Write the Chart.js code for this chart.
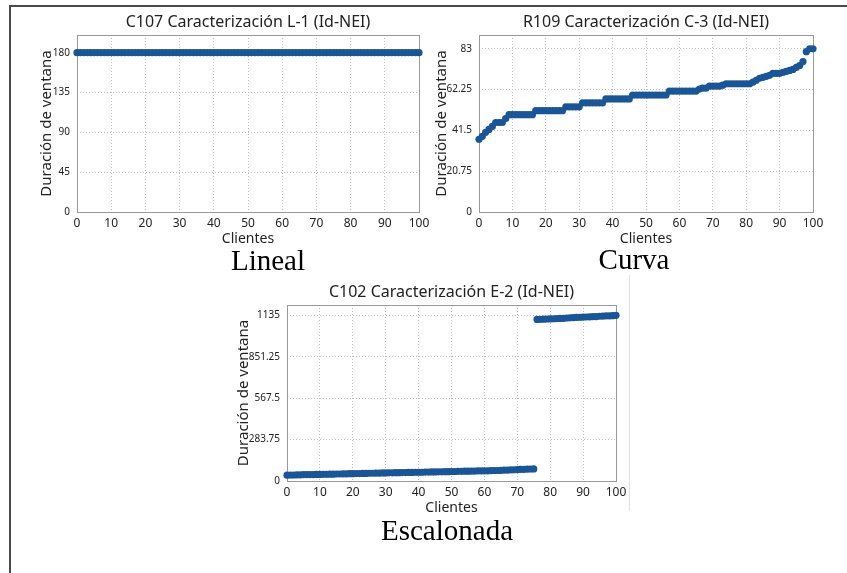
<!DOCTYPE html>
<html>
<head>
<meta charset="utf-8">
<script src="https://cdn.jsdelivr.net/npm/chart.js@4.4.1/dist/chart.umd.min.js"></script>
<style>
  body { margin: 0; background: #fff; width: 847px; height: 573px; position: relative; overflow: hidden; }
  canvas { position: absolute; }
  .frame { position: absolute; left: 9px; top: 5px; width: 900px; height: 600px; border-top: 2px solid #4a4a4a; border-left: 2px solid #4a4a4a; }
  .sep { position: absolute; left: 629px; top: 275px; width: 1px; height: 236px; background: #e4e4e4; }
  .caption { position: absolute; width: 200px; text-align: center; font-family: "Liberation Serif", "Times New Roman", serif; font-size: 29px; line-height: 29px; color: #000; }
</style>
</head>
<body>
<div class="frame"></div>
<div class="sep"></div>
<canvas id="c107" width="397" height="236" style="left:37px;top:12px"></canvas>
<canvas id="r109" width="396" height="236" style="left:432px;top:12px"></canvas>
<canvas id="c102" width="397" height="235" style="left:234px;top:282px"></canvas>
<div class="caption" style="left:168px;top:246px">Lineal</div>
<div class="caption" style="left:534px;top:245px">Curva</div>
<div class="caption" style="left:347px;top:516px">Escalonada</div>
<script>
"use strict";

// clientes 0..100 (x axis)
const clientes = Array.from({ length: 101 }, (_, i) => i);
const xTicks = [0, 10, 20, 30, 40, 50, 60, 70, 80, 90, 100];

// C107 - L-1
const linealVals = [
  180, 180, 180, 180, 180, 180, 180, 180, 180, 180,
  180, 180, 180, 180, 180, 180, 180, 180, 180, 180,
  180, 180, 180, 180, 180, 180, 180, 180, 180, 180,
  180, 180, 180, 180, 180, 180, 180, 180, 180, 180,
  180, 180, 180, 180, 180, 180, 180, 180, 180, 180,
  180, 180, 180, 180, 180, 180, 180, 180, 180, 180,
  180, 180, 180, 180, 180, 180, 180, 180, 180, 180,
  180, 180, 180, 180, 180, 180, 180, 180, 180, 180,
  180, 180, 180, 180, 180, 180, 180, 180, 180, 180,
  180, 180, 180, 180, 180, 180, 180, 180, 180, 180,
  180
];
const linealTicks = [0, 45, 90, 135, 180];

// R109 - C-3
const curvaVals = [
  37, 38.5, 40.5, 42, 43.5, 45.5, 45.5, 45.5, 47.5, 49.5,
  49.5, 49.5, 49.5, 49.5, 49.5, 49.5, 49.5, 51.5, 51.5, 51.5,
  51.5, 51.5, 51.5, 51.5, 51.5, 51.5, 53.5, 53.5, 53.5, 53.5,
  53.5, 55.5, 55.5, 55.5, 55.5, 55.5, 55.5, 55.5, 57.5, 57.5,
  57.5, 57.5, 57.5, 57.5, 57.5, 57.5, 59.5, 59.5, 59.5, 59.5,
  59.5, 59.5, 59.5, 59.5, 59.5, 59.5, 59.5, 61.5, 61.5, 61.5,
  61.5, 61.5, 61.5, 61.5, 61.5, 61.5, 62.5, 63, 63, 64,
  64, 64, 64, 64.5, 65.2, 65.2, 65.2, 65.2, 65.2, 65.2,
  65.2, 65.2, 66, 67, 68, 68.5, 69, 69.5, 70.5, 70.5,
  70.5, 71, 71.5, 72, 72.5, 73.5, 74.5, 76.5, 81.5, 83,
  83
];
const curvaTicks = [0, 20.75, 41.5, 62.25, 83];

// C102 - E-2
const escalonadaVals = [
  40, 41, 41, 42, 42, 43, 43, 44, 44, 45,
  45, 46, 46, 47, 47, 48, 48, 49, 49, 50,
  50, 51, 51, 52, 52, 53, 53, 54, 54, 55,
  55, 56, 56, 57, 57, 58, 58, 59, 59, 60,
  60, 60, 61, 61, 62, 62, 63, 63, 64, 64,
  65, 65, 66, 66, 67, 67, 68, 68, 69, 69,
  70, 70, 71, 72, 72, 73, 74, 75, 76, 77,
  78, 79, 80, 81, 82, 83, 1106, 1107, 1108, 1109,
  1110, 1111, 1112, 1113, 1114, 1116, 1117, 1118, 1120, 1121,
  1122, 1123, 1124, 1125, 1126, 1128, 1129, 1130, 1131, 1132,
  1134
];
const escalonadaTicks = [0, 283.75, 567.5, 851.25, 1135];

Chart.defaults.font.family = '"Noto Sans", "DejaVu Sans", sans-serif';
Chart.defaults.color = '#222';

const plotFrame = {
  id: 'plotFrame',
  beforeDatasetsDraw(chart) {
    const a = chart.chartArea;
    const ctx = chart.ctx;
    ctx.save();
    ctx.strokeStyle = '#9a9a9a';
    ctx.lineWidth = 1;
    ctx.strokeRect(Math.round(a.left) + 0.5, Math.round(a.top) + 0.5,
      Math.round(a.right - a.left), Math.round(a.bottom - a.top));
    ctx.restore();
  }
};

function makeChart(id, title, vals, yMax, yTicks, yWidth) {
  return new Chart(document.getElementById(id), {
    type: 'scatter',
    data: {
      datasets: [{
        data: vals.map((v, i) => ({ x: clientes[i], y: v })),
        backgroundColor: '#1a5596',
        borderColor: '#1a5596',
        pointRadius: 3.6,
        pointBorderWidth: 0,
        showLine: false,
        clip: false
      }]
    },
    options: {
      responsive: false,
      animation: false,
      events: [],
      layout: { padding: { left: 0, right: 15, top: 0, bottom: 0 } },
      plugins: {
        legend: { display: false },
        tooltip: { enabled: false },
        title: {
          display: true,
          text: title,
          fullSize: false,
          color: '#222',
          font: { size: 16, weight: 'normal' },
          padding: { top: 1, bottom: 2.8 }
        }
      },
      scales: {
        x: {
          type: 'linear',
          min: 0,
          max: 100,
          afterBuildTicks: s => { s.ticks = xTicks.map(v => ({ value: v })); },
          afterFit: s => { s.height = 36; },
          ticks: { font: { size: 12 }, padding: 4, autoSkip: false, maxRotation: 0, color: '#222' },
          grid: { color: '#bdbdbd', drawTicks: false },
          border: { display: false, dash: [1, 2] },
          title: { display: true, text: 'Clientes', font: { size: 14 }, padding: { top: 0, bottom: 1 }, color: '#222' }
        },
        y: {
          type: 'linear',
          min: 0,
          max: yMax,
          afterBuildTicks: s => { s.ticks = yTicks.map(v => ({ value: v })); },
          afterFit: s => { s.width = yWidth; },
          ticks: { font: { size: 10 }, padding: 7, autoSkip: false, color: '#222', callback: v => String(v) },
          grid: { color: '#bdbdbd', drawTicks: false },
          border: { display: false, dash: [1, 2] },
          title: { display: true, text: 'Duración de ventana', font: { size: 15 }, padding: { top: 1, bottom: 0 }, color: '#222' }
        }
      }
    },
    plugins: [plotFrame]
  });
}

makeChart('c107', 'C107 Caracterización L-1 (Id-NEI)', linealVals, 200, linealTicks, 40);
makeChart('r109', 'R109 Caracterización C-3 (Id-NEI)', curvaVals, 90, curvaTicks, 47);
makeChart('c102', 'C102 Caracterización E-2 (Id-NEI)', escalonadaVals, 1205, escalonadaTicks, 53);
</script>
</body>
</html>
